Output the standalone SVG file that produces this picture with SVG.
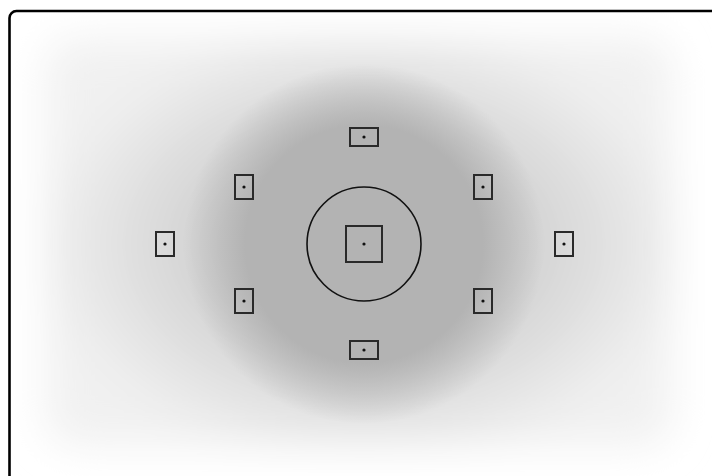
<svg xmlns="http://www.w3.org/2000/svg" width="712" height="476" viewBox="0 0 712 476">
  <defs>
    <radialGradient id="wash" gradientUnits="userSpaceOnUse" cx="364" cy="244" r="330" gradientTransform="translate(364 244) scale(1 0.68) translate(-364 -244)">
      <stop offset="0" stop-color="#cdcdcd"/>
      <stop offset="0.5" stop-color="#d3d3d3"/>
      <stop offset="1" stop-color="#f1f1f1"/>
    </radialGradient>
    <radialGradient id="disc" gradientUnits="userSpaceOnUse" cx="364" cy="244" r="180">
      <stop offset="0" stop-color="#b3b3b3" stop-opacity="1"/>
      <stop offset="0.66" stop-color="#b3b3b3" stop-opacity="1"/>
      <stop offset="1" stop-color="#b3b3b3" stop-opacity="0"/>
    </radialGradient>
    <filter id="soft" x="-20%" y="-20%" width="140%" height="140%">
      <feGaussianBlur stdDeviation="20"/>
    </filter>
    <clipPath id="frameClip">
      <rect x="9.5" y="11" width="720" height="490" rx="7"/>
    </clipPath>
    <style>
      .af { fill: none; stroke: #2a2a2a; stroke-width: 2; }
      .dot { fill: #111; }
    </style>
  </defs>
  <rect x="0" y="0" width="712" height="476" fill="#ffffff"/>
  <g clip-path="url(#frameClip)">
    <rect x="46" y="38" width="626" height="408" rx="30" fill="url(#wash)" filter="url(#soft)"/>
    <circle cx="364" cy="244" r="180" fill="url(#disc)"/>
  </g>
  <rect x="9.5" y="11" width="720" height="490" rx="7" fill="none" stroke="#000" stroke-width="2.6"/>

  <g id="center">
    <circle cx="364" cy="244" r="57" fill="none" stroke="#111" stroke-width="1.6"/>
    <rect x="346" y="226" width="36" height="36" class="af"/>
    <circle cx="364" cy="244" r="1.6" class="dot"/>
  </g>
  <g id="top">
    <rect x="350" y="128" width="28" height="18" class="af"/>
    <circle cx="364" cy="137" r="1.6" class="dot"/>
  </g>
  <g id="bottom">
    <rect x="350" y="341" width="28" height="18" class="af"/>
    <circle cx="364" cy="350" r="1.6" class="dot"/>
  </g>
  <g id="left">
    <rect x="156" y="232" width="18" height="24" class="af"/>
    <circle cx="165" cy="244" r="1.6" class="dot"/>
  </g>
  <g id="right">
    <rect x="555" y="232" width="18" height="24" class="af"/>
    <circle cx="564" cy="244" r="1.6" class="dot"/>
  </g>
  <g id="upper-left">
    <rect x="235" y="175" width="18" height="24" class="af"/>
    <circle cx="244" cy="187" r="1.6" class="dot"/>
  </g>
  <g id="lower-left">
    <rect x="235" y="289" width="18" height="24" class="af"/>
    <circle cx="244" cy="301" r="1.6" class="dot"/>
  </g>
  <g id="upper-right">
    <rect x="474" y="175" width="18" height="24" class="af"/>
    <circle cx="483" cy="187" r="1.6" class="dot"/>
  </g>
  <g id="lower-right">
    <rect x="474" y="289" width="18" height="24" class="af"/>
    <circle cx="483" cy="301" r="1.6" class="dot"/>
  </g>
  <g id="connectors"/>
</svg>
